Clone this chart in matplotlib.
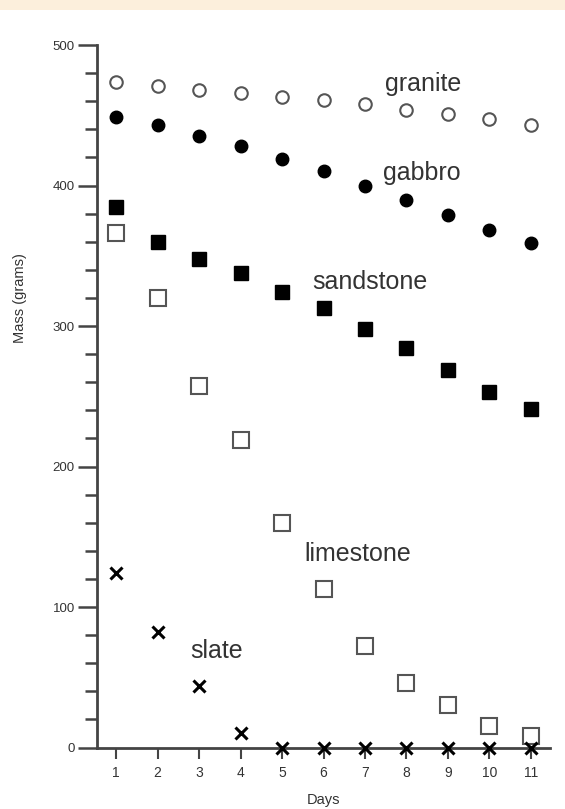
import numpy as np
import matplotlib
matplotlib.use("Agg")
import matplotlib.pyplot as plt
from matplotlib.ticker import MultipleLocator

plt.rcParams['font.family'] = ['Liberation Sans', 'DejaVu Sans']

# ---- data ----
days = [1, 2, 3, 4, 5, 6, 7, 8, 9, 10, 11]
granite = [474, 471, 468, 466, 463, 461, 458, 454, 451, 447, 443]
gabbro = [449, 443, 435, 428, 419, 410, 400, 390, 379, 368, 359]
sandstone = [385, 360, 348, 338, 324, 313, 298, 284, 269, 253, 241]
limestone = [366, 320, 257, 219, 160, 113, 72, 46, 30, 15, 8]
slate = [124, 82, 44, 10, 0, 0, 0, 0, 0, 0, 0]

# rock name labels (day, mass) where each name sits
rock_labels = ["granite", "gabbro", "sandstone", "limestone", "slate"]
label_pos = [(7.48, 472), (7.43, 409), (5.72, 331), (5.53, 138), (2.78, 69)]

AX_COL = '#444444'
TXT_COL = '#333333'

fig = plt.figure(figsize=(5.65, 8.09), dpi=100)
fig.patch.set_facecolor('white')

# beige strip along the top
fig.patches.append(plt.Rectangle((0, 1 - 10/809), 1, 10/809, transform=fig.transFigure,
                                 facecolor='#fcefdc', edgecolor='none'))

ax = fig.add_axes([97/565, 1 - 747.5/809, (550 - 97)/565, (747.5 - 45)/809])

ax.plot(days, granite, 'o', ms=9, mfc='white', mec='#555555', mew=1.5, clip_on=False)
ax.plot(days, gabbro, 'o', ms=9, mfc='black', mec='black', clip_on=False)
ax.plot(days, sandstone, 's', ms=10.5, mfc='black', mec='black', clip_on=False)
ax.plot(days, limestone, 's', ms=11.5, mfc='white', mec='#555555', mew=1.5, clip_on=False)
ax.plot(days, slate, 'x', ms=8, mec='black', mew=2.2, clip_on=False, zorder=5)

for name, (x, y) in zip(rock_labels, label_pos):
    ax.text(x, y, name, fontsize=18, color=TXT_COL, ha='left', va='center')

ax.set_xlim(0.54, 11.46)
ax.set_ylim(0, 500)
ax.set_xticks(days)
ax.yaxis.set_major_locator(MultipleLocator(100))
ax.yaxis.set_minor_locator(MultipleLocator(20))

for side in ['top', 'right']:
    ax.spines[side].set_visible(False)
for side in ['left', 'bottom']:
    ax.spines[side].set_color(AX_COL)
    ax.spines[side].set_linewidth(2)

ax.tick_params(axis='y', which='major', direction='out', length=14, width=1.8,
               color=AX_COL, labelsize=9.5, labelcolor=TXT_COL, pad=2)
ax.tick_params(axis='y', which='minor', direction='out', length=9, width=1.8, color=AX_COL)
ax.tick_params(axis='x', which='major', direction='out', length=8, width=1.5,
               color=AX_COL, labelsize=10, labelcolor=TXT_COL, pad=5)

ax.set_xlabel("Days", fontsize=10.5, color=TXT_COL, labelpad=10)
ax.set_ylabel("Mass (grams)", fontsize=10.5, color=TXT_COL)
ax.yaxis.set_label_coords(-0.155, 0.64)

fig.savefig("out.png", dpi=100)
